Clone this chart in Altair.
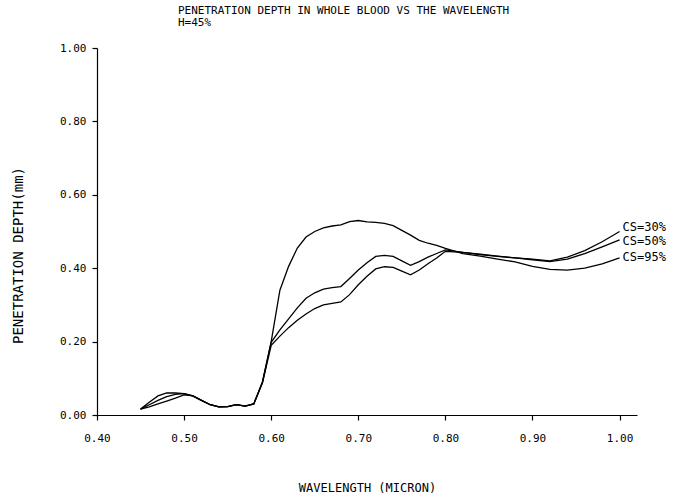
import altair as alt
import pandas as pd

# ---- data ----
wavelength = [0.45, 0.46, 0.47, 0.48, 0.49, 0.50, 0.51, 0.52, 0.53, 0.54,
              0.55, 0.56, 0.57, 0.58, 0.59, 0.60, 0.61, 0.62, 0.63, 0.64,
              0.65, 0.66, 0.67, 0.68, 0.69, 0.70, 0.71, 0.72, 0.73, 0.74,
              0.75, 0.76, 0.77, 0.78, 0.79, 0.80, 0.82, 0.84, 0.86, 0.88,
              0.90, 0.92, 0.94, 0.96, 0.98, 1.00]

cs95 = [0.016, 0.035, 0.052, 0.060, 0.060, 0.058, 0.052, 0.040, 0.028, 0.022,
        0.023, 0.028, 0.024, 0.030, 0.090, 0.200, 0.340, 0.405, 0.455, 0.485,
        0.500, 0.510, 0.515, 0.518, 0.527, 0.530, 0.526, 0.525, 0.522, 0.516,
        0.503, 0.490, 0.476, 0.468, 0.462, 0.454, 0.440, 0.433, 0.425, 0.417,
        0.405, 0.397, 0.395, 0.400, 0.412, 0.428]

cs50 = [0.016, 0.028, 0.040, 0.050, 0.056, 0.058, 0.052, 0.040, 0.028, 0.022,
        0.023, 0.028, 0.024, 0.030, 0.090, 0.198, 0.232, 0.262, 0.292, 0.318,
        0.333, 0.343, 0.347, 0.350, 0.372, 0.395, 0.415, 0.432, 0.435, 0.432,
        0.420, 0.408, 0.418, 0.430, 0.440, 0.450, 0.443, 0.438, 0.433, 0.428,
        0.423, 0.418, 0.425, 0.440, 0.458, 0.477]

cs30 = [0.016, 0.022, 0.030, 0.038, 0.046, 0.055, 0.052, 0.040, 0.028, 0.022,
        0.023, 0.028, 0.024, 0.030, 0.088, 0.190, 0.215, 0.238, 0.258, 0.275,
        0.290, 0.300, 0.304, 0.308, 0.328, 0.355, 0.378, 0.398, 0.404, 0.402,
        0.392, 0.382, 0.395, 0.412, 0.428, 0.446, 0.443, 0.437, 0.432, 0.428,
        0.425, 0.420, 0.430, 0.448, 0.472, 0.500]

series_names = ["CS=30%", "CS=50%", "CS=95%"]
label_dy = [-5, 1, -1]

x_ticks = [0.40, 0.50, 0.60, 0.70, 0.80, 0.90, 1.00]
y_ticks = [0.00, 0.20, 0.40, 0.60, 0.80, 1.00]

title_lines = ["PENETRATION DEPTH IN WHOLE BLOOD VS THE WAVELENGTH", "H=45%"]
x_title = "WAVELENGTH (MICRON)"
y_title = "PENETRATION DEPTH(mm)"

# ---- build tables ----
series_values = [cs30, cs50, cs95]
rows = []
for name, vals in zip(series_names, series_values):
    for w, d in zip(wavelength, vals):
        rows.append({"series": name, "wavelength": w, "depth": d})
df = pd.DataFrame(rows)

FONT = "DejaVu Sans Mono"

x = alt.X("wavelength:Q",
          scale=alt.Scale(domain=[0.4, 1.02], nice=False, zero=False),
          axis=alt.Axis(values=x_ticks, format=".2f", title=x_title,
                        grid=False, tickSize=5, tickColor="black",
                        domainColor="black", domainWidth=1.2, tickWidth=1.2,
                        labelFont=FONT, labelFontSize=11, labelColor="black",
                        labelPadding=12, labelFlush=False,
                        titleFont=FONT, titleFontSize=12, titleFontWeight="normal",
                        titleColor="black", titlePadding=39))
y = alt.Y("depth:Q",
          scale=alt.Scale(domain=[0, 1], nice=False),
          axis=alt.Axis(values=y_ticks, format=".2f", title=y_title,
                        grid=False, tickSize=5, tickColor="black",
                        domainColor="black", domainWidth=1.2, tickWidth=1.2,
                        labelFont=FONT, labelFontSize=11, labelColor="black",
                        labelPadding=6, labelFlush=False,
                        titleFont=FONT, titleFontSize=14, titleFontWeight="normal",
                        titleColor="black", titleX=-72, titleY=207))

lines = alt.Chart(df).mark_line(color="black", strokeWidth=1.3).encode(
    x=x, y=y, detail="series:N", order="wavelength:Q")

layers = [lines]
for name, vals, dy in zip(series_names, series_values, label_dy):
    lab = pd.DataFrame({"series": [name], "wavelength": [wavelength[-1]],
                        "depth": [vals[-1]]})
    layers.append(alt.Chart(lab).mark_text(
        align="left", baseline="middle", dx=3, dy=dy, font=FONT, fontSize=12,
        color="black").encode(x="wavelength:Q", y="depth:Q", text="series:N"))

chart = alt.layer(*layers).properties(
    width=540, height=367,
    background="white",
    title=alt.TitleParams(title_lines, anchor="start", frame="group", dx=81,
                          offset=14, font=FONT, fontSize=11, fontWeight="normal",
                          color="black", lineHeight=12),
    autosize=alt.AutoSizeParams(type="none"),
    padding={"left": 97, "top": 48, "right": 49, "bottom": 80},
).configure_view(strokeWidth=0)

chart.save("out.html", embed_options={"renderer": "svg", "actions": False})
